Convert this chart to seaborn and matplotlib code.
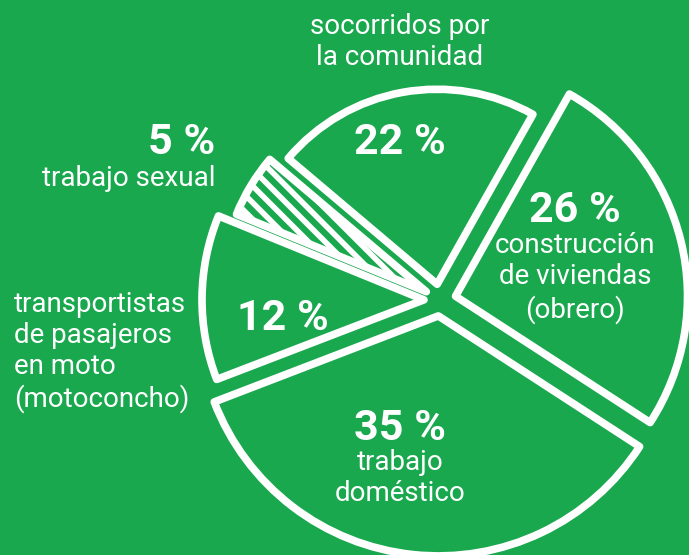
"""
Pie chart: sectores de trabajo (hand-drawn style, green background)
"""

import matplotlib
matplotlib.use('Agg')
import matplotlib.pyplot as plt
import seaborn as sns

# data
shares = [26, 22, 5, 12, 35]
pct_labels = ['26 %', '22 %', '5 %', '12 %', '35 %']
sectors = ['construcción\nde viviendas\n(obrero)',
           'socorridos por\nla comunidad',
           'trabajo sexual',
           'transportistas\nde pasajeros\nen moto\n(motoconcho)',
           'trabajo\ndoméstico']

GREEN = '#19a84e'
WHITE = 'white'

sns.set_theme(style='white')
plt.rcParams['font.family'] = ['Roboto', 'DejaVu Sans']
plt.rcParams['hatch.linewidth'] = 4
plt.rcParams['hatch.color'] = WHITE

W, H = 689, 555
fig = plt.figure(figsize=(W / 100, H / 100), dpi=100, facecolor=GREEN)
ax = fig.add_axes([0, 0, 1, 1])
ax.set_facecolor(GREEN)

center = (440, H - 300)
explode = [16, 16, 16, 16, 16]
# hand-drawn look: each slice has its own length
radii = [232, 195, 205, 222, 240]

wedges, _ = ax.pie(shares, explode=explode, center=center, radius=240,
                   startangle=-33, counterclock=True, frame=True,
                   colors=[GREEN] * len(shares),
                   wedgeprops=dict(edgecolor=WHITE, linewidth=5.5,
                                   joinstyle='round'))
for w, r in zip(wedges, radii):
    w.set_radius(r)
wedges[2].set_hatch('\\\\')
ax.set_xlim(0, W)
ax.set_ylim(0, H)
ax.set_aspect('equal')
ax.axis('off')

big = dict(color=WHITE, fontsize=31, fontweight='bold', ha='center', va='center')
small = dict(color=WHITE, fontsize=20, linespacing=1.2)

# percentages
ax.text(575, H - 210, pct_labels[0], **big)
ax.text(400, H - 142, pct_labels[1], **big)
ax.text(215, H - 142, pct_labels[2], **{**big, 'ha': 'right'})
ax.text(283, H - 318, pct_labels[3], **big)
ax.text(400, H - 428, pct_labels[4], **big)

# sector names
ax.text(575, H - 278, sectors[0], ha='center', va='center', **small)
ax.text(400, H - 42, sectors[1], ha='center', va='center', **small)
ax.text(215, H - 178, sectors[2], ha='right', va='center', **small)
ax.text(14, H - 352, sectors[3], ha='left', va='center', **small)
ax.text(400, H - 478, sectors[4], ha='center', va='center', **small)

plt.savefig('out.png', dpi=100, facecolor=GREEN)
